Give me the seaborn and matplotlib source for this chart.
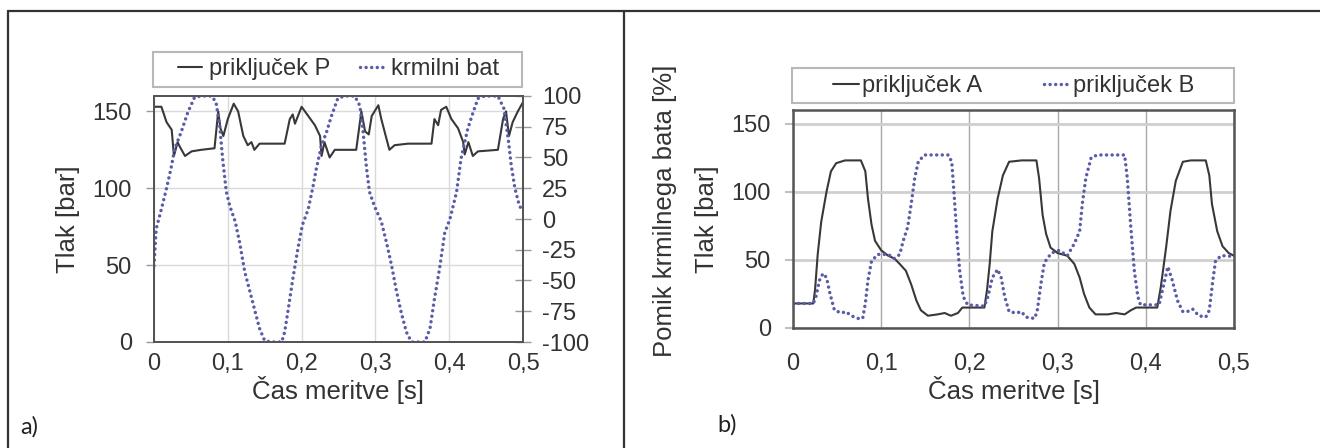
import matplotlib
matplotlib.use("Agg")
import matplotlib.pyplot as plt
from matplotlib.patches import Rectangle
from matplotlib.lines import Line2D
import seaborn as sns

# ------------------------------------------
# Data
# ------------------------------------------
# a) pressure at port P [bar] and spool position [%]
t_p = [0.000, 0.010, 0.017, 0.024, 0.027, 0.032, 0.035, 0.042, 0.051, 0.064,
       0.082, 0.087, 0.090, 0.094, 0.100, 0.108, 0.114, 0.121, 0.127, 0.132,
       0.136, 0.143, 0.159, 0.177, 0.184, 0.188, 0.191, 0.200, 0.209, 0.218,
       0.225, 0.227, 0.231, 0.238, 0.245, 0.263, 0.274, 0.281, 0.286, 0.291,
       0.295, 0.304, 0.308, 0.314, 0.319, 0.326, 0.344, 0.376, 0.380, 0.385,
       0.389, 0.396, 0.403, 0.412, 0.419, 0.421, 0.426, 0.432, 0.439, 0.466,
       0.473, 0.477, 0.481, 0.486, 0.493, 0.500]
p_port = [153, 153, 143, 138, 121, 130, 127, 121, 124, 125,
          126, 150, 139, 134, 145, 155, 150, 134, 128, 130,
          125, 129, 129, 129, 145, 148, 142, 153, 147, 141,
          134, 121, 130, 120, 125, 125, 125, 150, 137, 135,
          147, 154, 145, 134, 125, 128, 129, 129, 145, 141,
          151, 153, 145, 139, 130, 122, 130, 121, 124, 125,
          145, 150, 134, 143, 150, 156]

t_bat = [0.000, 0.003, 0.010, 0.017, 0.023, 0.028, 0.037, 0.046, 0.055, 0.064,
         0.078, 0.084, 0.089, 0.093, 0.098, 0.103, 0.110, 0.116, 0.123, 0.130,
         0.136, 0.143, 0.150, 0.159, 0.173, 0.177, 0.182, 0.188, 0.195, 0.201,
         0.209, 0.215, 0.220, 0.227, 0.234, 0.240, 0.249, 0.258, 0.272, 0.279,
         0.283, 0.288, 0.292, 0.299, 0.308, 0.315, 0.322, 0.328, 0.335, 0.342,
         0.349, 0.367, 0.374, 0.380, 0.387, 0.394, 0.401, 0.410, 0.416, 0.425,
         0.432, 0.439, 0.448, 0.466, 0.474, 0.480, 0.484, 0.489, 0.495, 0.500]
bat = [-38, -8, 8, 25, 41, 57, 71, 87, 99, 100,
       100, 95, 76, 49, 22, 10, -2, -19, -43, -59,
       -73, -89, -99, -100, -100, -92, -73, -49, -24, -5,
       8, 25, 41, 60, 71, 83, 98, 100, 100, 92,
       73, 41, 22, 10, -2, -19, -38, -57, -76, -92,
       -100, -100, -89, -65, -40, -11, 0, 22, 49, 73,
       86, 98, 100, 100, 90, 65, 44, 25, 11, 6]

# b) pressure at ports A and B [bar]
t_a = [0.000, 0.023, 0.025, 0.028, 0.032, 0.038, 0.043, 0.049, 0.059, 0.077,
       0.082, 0.085, 0.089, 0.093, 0.100, 0.108, 0.115, 0.121, 0.128, 0.134,
       0.140, 0.145, 0.153, 0.164, 0.172, 0.179, 0.187, 0.192, 0.217, 0.220,
       0.223, 0.226, 0.232, 0.238, 0.245, 0.259, 0.276, 0.279, 0.283, 0.287,
       0.292, 0.300, 0.311, 0.319, 0.325, 0.330, 0.336, 0.343, 0.357, 0.366,
       0.376, 0.383, 0.389, 0.413, 0.417, 0.423, 0.428, 0.434, 0.442, 0.451,
       0.468, 0.472, 0.475, 0.481, 0.487, 0.494, 0.500]
p_a = [18, 18, 28, 54, 78, 100, 115, 121, 123, 123,
       115, 95, 76, 64, 57, 53, 51, 47, 42, 32,
       20, 13, 9, 10, 11, 9, 11, 15, 15, 28,
       47, 71, 95, 112, 122, 123, 123, 110, 83, 69,
       59, 55, 53, 47, 37, 25, 15, 10, 10, 11,
       10, 13, 15, 15, 30, 59, 86, 108, 122, 123,
       123, 112, 91, 71, 60, 55, 53]

t_b = [0.000, 0.023, 0.026, 0.030, 0.034, 0.038, 0.042, 0.047, 0.055, 0.060,
       0.066, 0.074, 0.079, 0.082, 0.085, 0.089, 0.096, 0.108, 0.115, 0.121,
       0.125, 0.130, 0.134, 0.138, 0.142, 0.149, 0.176, 0.180, 0.183, 0.186,
       0.189, 0.193, 0.198, 0.217, 0.221, 0.226, 0.232, 0.236, 0.240, 0.245,
       0.253, 0.259, 0.264, 0.274, 0.277, 0.281, 0.285, 0.293, 0.302, 0.311,
       0.319, 0.325, 0.328, 0.332, 0.338, 0.345, 0.376, 0.379, 0.383, 0.387,
       0.391, 0.394, 0.415, 0.419, 0.425, 0.430, 0.436, 0.442, 0.447, 0.453,
       0.460, 0.468, 0.472, 0.476, 0.479, 0.485, 0.493, 0.500]
p_b = [18, 18, 23, 35, 40, 37, 25, 13, 11, 12,
       9, 7, 7, 18, 35, 49, 54, 54, 51, 54,
       64, 74, 91, 110, 122, 127, 127, 122, 95, 66,
       42, 23, 17, 16, 23, 37, 43, 37, 23, 12,
       11, 12, 8, 7, 13, 32, 48, 55, 57, 53,
       62, 71, 91, 110, 125, 127, 127, 110, 74, 42,
       23, 17, 17, 28, 45, 35, 20, 12, 12, 14,
       9, 8, 13, 35, 49, 53, 53, 52]

x_ticks = [0.0, 0.1, 0.2, 0.3, 0.4, 0.5]
x_ticklabels = ["0", "0,1", "0,2", "0,3", "0,4", "0,5"]
y_ticks = [0, 50, 100, 150]
pos_ticks = [-100, -75, -50, -25, 0, 25, 50, 75, 100]

label_time = "Čas meritve [s]"
label_press = "Tlak [bar]"
label_pos = "Pomik krmilnega bata [%]"

# ------------------------------------------
# Styling
# ------------------------------------------
W, H = 1320, 448
TXT = "#333333"
SOLID = "#383838"
DOTS = "#5a5ca8"
# near-zero dashes + round caps -> row of round dots
DOT_LS = (0, (0.01, 1.6))
DOT_LW = 2.5

sns.set_theme(style="white")
plt.rcParams["font.family"] = ["Liberation Sans", "DejaVu Sans"]
plt.rcParams["axes.unicode_minus"] = False
plt.rcParams["text.color"] = TXT
plt.rcParams["axes.labelcolor"] = TXT
plt.rcParams["xtick.color"] = TXT
plt.rcParams["ytick.color"] = TXT


def fig_box(x0, y0, x1, y1):
    # pixel box (top-left origin) -> figure fraction rect
    return [x0 / W, 1 - y1 / H, (x1 - x0) / W, (y1 - y0) / H]


def style_spines(ax, color="#555555", lw=1.4):
    for s in ax.spines.values():
        s.set_visible(True)
        s.set_color(color)
        s.set_linewidth(lw)


fig = plt.figure(figsize=(W / 100, H / 100), dpi=100)

# ---------------- panel a ----------------
ax_a = fig.add_axes(fig_box(154, 96, 523, 342))
sns.lineplot(x=t_p, y=p_port, ax=ax_a, color=SOLID, linewidth=1.5,
             estimator=None, sort=False)
ax_a.set_xlim(0, 0.5)
ax_a.set_ylim(0, 160)
ax_a.set_xticks(x_ticks)
ax_a.set_xticklabels(x_ticklabels)
ax_a.set_yticks(y_ticks)
ax_a.grid(True, color="#d9d9d9", linewidth=1.0)
ax_a.set_axisbelow(True)
ax_a.tick_params(axis="x", bottom=False, pad=2, labelsize=17)
ax_a.tick_params(axis="y", left=True, length=6, width=1, color="#999999",
                 pad=10, labelsize=17)
ax_a.set_xlabel(label_time, fontsize=18.5, labelpad=1)
ax_a.set_ylabel(label_press, fontsize=18.5, labelpad=9)
style_spines(ax_a)

ax_r = ax_a.twinx()
sns.lineplot(x=t_bat, y=bat, ax=ax_r, color=DOTS, linewidth=DOT_LW,
             linestyle=DOT_LS, dash_capstyle="round",
             estimator=None, sort=False)
ax_r.set_ylim(-100, 100)
ax_r.set_yticks(pos_ticks)
ax_r.set_ylabel("")
ax_r.tick_params(axis="y", right=True, direction="inout", length=11,
                 width=1, color="#999999", pad=8, labelsize=17)
ax_r.grid(False)
style_spines(ax_r)

ax_a.legend(handles=[ax_a.get_lines()[0], ax_r.get_lines()[0]],
            labels=["priključek P", "krmilni bat"],
            loc="center", bbox_to_anchor=(0.5, 1.11), ncol=2, frameon=False,
            fontsize=17, handlelength=1.0, handletextpad=0.3,
            columnspacing=1.25, borderaxespad=0)
fig.add_artist(Rectangle((153 / W, 1 - 87 / H), 369 / W, 35 / H,
                         transform=fig.transFigure, fill=False,
                         edgecolor="#b8b8b8", linewidth=1.5))

# ---------------- panel b ----------------
ax_b = fig.add_axes(fig_box(793, 110, 1234, 328))
sns.lineplot(x=t_a, y=p_a, ax=ax_b, color=SOLID, linewidth=1.5,
             estimator=None, sort=False)
sns.lineplot(x=t_b, y=p_b, ax=ax_b, color=DOTS, linewidth=DOT_LW,
             linestyle=DOT_LS, dash_capstyle="round",
             estimator=None, sort=False)
ax_b.set_xlim(0, 0.5)
ax_b.set_ylim(0, 160)
ax_b.set_xticks(x_ticks)
ax_b.set_xticklabels(x_ticklabels)
ax_b.set_yticks(y_ticks)
ax_b.yaxis.grid(True, color="#cfcfcf", linewidth=2.0)
ax_b.xaxis.grid(True, color="#a8a8a8", linewidth=1.0)
ax_b.set_axisbelow(True)
ax_b.tick_params(axis="x", bottom=False, pad=12, labelsize=17)
ax_b.tick_params(axis="y", left=True, length=6, width=1.5, color="#c0c0c0",
                 pad=10, labelsize=17)
ax_b.set_xlabel(label_time, fontsize=18.5, labelpad=1)
ax_b.set_ylabel(label_press, fontsize=18.5, labelpad=9)
style_spines(ax_b, lw=1.8)

ax_b.legend(handles=ax_b.get_lines()[:2],
            labels=["priključek A", "priključek B"],
            loc="center", bbox_to_anchor=(0.5, 1.11), ncol=2, frameon=False,
            fontsize=17, handlelength=1.1, handletextpad=0.15,
            columnspacing=2.6, borderaxespad=0)
fig.add_artist(Rectangle((792 / W, 1 - 103 / H), 442 / W, 35 / H,
                         transform=fig.transFigure, fill=False,
                         edgecolor="#b8b8b8", linewidth=1.5))

# stray axis title left of panel b
fig.text(665 / W, 1 - 211 / H, label_pos, rotation=90, ha="center",
         va="center", fontsize=18.5)

# panel letters
fig.text(20 / W, 1 - 427 / H, "a)", ha="left", va="center", fontsize=17,
         family="Lato", color="#222222")
fig.text(717 / W, 1 - 425 / H, "b)", ha="left", va="center", fontsize=17,
         family="Lato", color="#222222")

# outer frame lines
frame_kw = dict(transform=fig.transFigure, color="#333333", linewidth=1.6)
fig.add_artist(Line2D([8 / W, 1], [1 - 11 / H, 1 - 11 / H], **frame_kw))
fig.add_artist(Line2D([8 / W, 8 / W], [0, 1 - 11 / H], **frame_kw))
fig.add_artist(Line2D([624 / W, 624 / W], [0, 1 - 11 / H], **frame_kw))

fig.savefig("out.png", dpi=100)
plt.close(fig)
